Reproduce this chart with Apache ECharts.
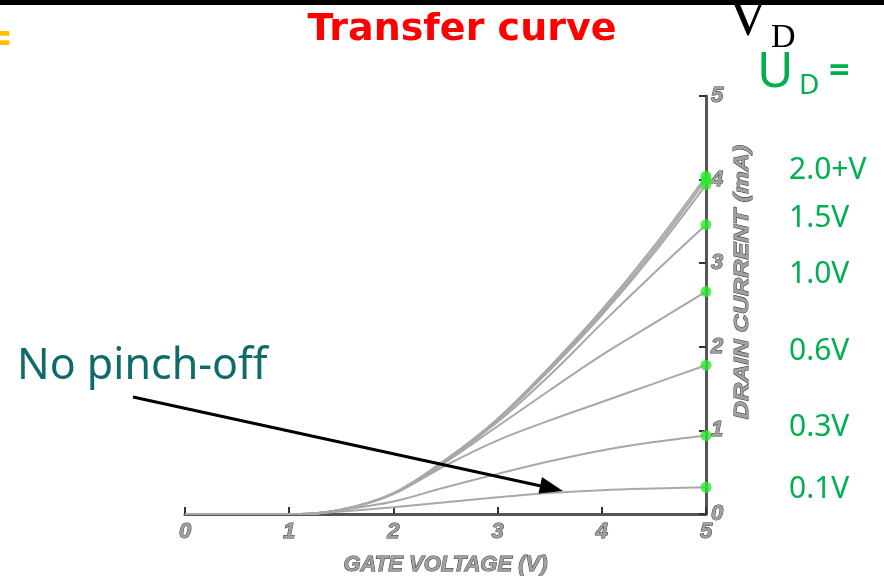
<!DOCTYPE html>
<html>
<head>
<meta charset="utf-8">
<title>Transfer curve</title>
<script src="https://cdn.jsdelivr.net/npm/echarts@6/dist/echarts.min.js"></script>
<style>
  html, body { margin: 0; padding: 0; background: #fff; }
  #chart { width: 884px; height: 576px; }
</style>
</head>
<body>
<div id="chart"></div>
<script>
// Gate voltage samples (V)
const gateVoltage = [0, 1, 1.1, 1.5, 2, 2.5, 3, 3.5, 4, 4.5, 5];

// Drain current (mA) for each drain voltage
const idVd01 = [0, 0, 0, 0.03, 0.08, 0.14, 0.20, 0.25, 0.285, 0.305, 0.32];
const idVd03 = [0, 0, 0, 0.05, 0.15, 0.32, 0.48, 0.63, 0.76, 0.86, 0.94];
const idVd06 = [0, 0, 0, 0.05, 0.24, 0.58, 0.88, 1.12, 1.34, 1.56, 1.78];
const idVd10 = [0, 0, 0, 0.05, 0.24, 0.62, 1.05, 1.48, 1.90, 2.28, 2.66];
const idVd15 = [0, 0, 0, 0.05, 0.24, 0.63, 1.10, 1.66, 2.28, 2.88, 3.46];
const idVd20 = [0, 0, 0, 0.05, 0.24, 0.63, 1.12, 1.72, 2.38, 3.12, 3.94];
const idVd25 = [0, 0, 0, 0.05, 0.25, 0.64, 1.13, 1.74, 2.41, 3.16, 4.00];
const idVd30 = [0, 0, 0, 0.05, 0.25, 0.65, 1.14, 1.76, 2.44, 3.20, 4.04];

const curves = [idVd01, idVd03, idVd06, idVd10, idVd15, idVd20, idVd25, idVd30];

// Axis ticks
const xTicks = [0, 1, 2, 3, 4, 5];
const yTicks = [0, 1, 2, 3, 4, 5];

// Drain-voltage labels along the right side, with the current each one sits beside
const vdLabels = ['0.1V', '0.3V', '0.6V', '1.0V', '1.5V', '2.0+V'];
const vdLabelCurrent = [0.29, 1.04, 1.94, 2.86, 3.54, 4.11];

const chart = echarts.init(document.getElementById('chart'), null, { renderer: 'canvas' });

const lastX = gateVoltage[gateVoltage.length - 1];

const lineSeries = curves.map(function (c) {
  return {
    type: 'line',
    data: gateVoltage.map(function (x, i) { return [x, c[i]]; }),
    symbol: 'none',
    smooth: 0.35,
    lineStyle: { color: '#a8a8a8', width: 2 },
    z: 3,
    silent: true
  };
});

const endPoints = {
  type: 'scatter',
  data: curves.map(function (c) { return [lastX, c[c.length - 1]]; }),
  symbol: 'circle',
  symbolSize: 11,
  itemStyle: { color: '#2ee82e' },
  z: 5,
  silent: true
};

const grid = { left: 185, right: 178, top: 96, bottom: 62, containLabel: false, outerBoundsMode: 'none' };
const plotH = 576 - grid.top - grid.bottom;
function yPix(v) { return grid.top + plotH * (1 - v / 5); }

const axisLabelStyle = {
  fontFamily: 'Liberation Sans',
  fontStyle: 'italic',
  fontWeight: 'bold',
  fontSize: 22,
  color: '#a0a0a0',
  textBorderColor: '#3c3c3c',
  textBorderWidth: 1
};

const graphics = [
  // dark band along the top edge
  { type: 'rect', shape: { x: 0, y: 0, width: 884, height: 5 }, style: { fill: '#000' }, z: 10 },
  // yellow equals sign at the left edge
  { type: 'text', x: -20, y: 41, style: { text: '=', font: 'bold 40px "DejaVu Sans"', fill: '#ffc000', textAlign: 'left', textVerticalAlign: 'middle' }, z: 10 },
  // title
  { type: 'text', x: 462, y: 30, style: { text: 'Transfer curve', font: 'bold 38px "DejaVu Sans"', fill: '#ff0000', textAlign: 'center', textVerticalAlign: 'middle' }, z: 10 },
  // V_D
  { type: 'text', x: 727, y: 20, style: { text: 'V', font: '58px "Liberation Serif"', fill: '#000', textAlign: 'left', textVerticalAlign: 'middle' }, z: 11 },
  { type: 'text', x: 771, y: 38, style: { text: 'D', font: '34px "Liberation Serif"', fill: '#000', textAlign: 'left', textVerticalAlign: 'middle' }, z: 11 },
  // U_D =
  { type: 'text', x: 757, y: 73, style: { text: 'U', font: '50px "Noto Sans"', fill: '#00b050', textAlign: 'left', textVerticalAlign: 'middle' }, z: 10 },
  { type: 'text', x: 799, y: 86, style: { text: 'D', font: '28px "Noto Sans"', fill: '#00b050', textAlign: 'left', textVerticalAlign: 'middle' }, z: 10 },
  { type: 'text', x: 829, y: 72, style: { text: '=', font: 'bold 36px "Noto Sans"', fill: '#00b050', textAlign: 'left', textVerticalAlign: 'middle' }, z: 10 },
  // annotation
  { type: 'text', x: 17, y: 367, style: { text: 'No pinch-off', font: '43px "Noto Sans"', fill: '#0e6b69', textAlign: 'left', textVerticalAlign: 'middle' }, z: 10 },
  { type: 'line', shape: { x1: 133, y1: 397, x2: 541, y2: 486 }, style: { stroke: '#000', lineWidth: 3 }, z: 10 },
  { type: 'polygon', shape: { points: [[563, 491], [538.5, 493.5], [542, 477]] }, style: { fill: '#000' }, z: 10 },
  // y-axis name
  { type: 'text', x: 742, y: 282, rotation: Math.PI / 2, scaleX: 1.2,
    style: { text: 'DRAIN CURRENT (mA)', font: 'italic bold 21px "Liberation Sans"', fill: '#a0a0a0', stroke: '#3c3c3c', lineWidth: 1, textAlign: 'center', textVerticalAlign: 'middle' }, z: 10 }
];

// drain-voltage labels
vdLabels.forEach(function (t, i) {
  graphics.push({
    type: 'text', x: 789, y: yPix(vdLabelCurrent[i]),
    style: { text: t, font: '30px "Noto Sans"', fill: '#00b050', textAlign: 'left', textVerticalAlign: 'middle' },
    z: 10
  });
});

const option = {
  backgroundColor: '#fff',
  animation: false,
  grid: grid,
  xAxis: {
    type: 'value',
    min: xTicks[0], max: xTicks[xTicks.length - 1], interval: 1,
    name: 'GATE VOLTAGE (V)',
    nameLocation: 'middle',
    nameGap: 40,
    nameTextStyle: {
      fontFamily: 'Liberation Sans', fontStyle: 'italic', fontWeight: 'bold', fontSize: 22,
      color: '#a0a0a0', textBorderColor: '#3c3c3c', textBorderWidth: 1
    },
    axisLine: { onZero: false, lineStyle: { color: '#555', width: 3 } },
    axisTick: { inside: true, length: 7, lineStyle: { color: '#333', width: 2 } },
    axisLabel: Object.assign({ margin: 7 }, axisLabelStyle),
    splitLine: { show: false }
  },
  yAxis: {
    type: 'value',
    position: 'right',
    min: yTicks[0], max: yTicks[yTicks.length - 1], interval: 1,
    axisLine: { show: true, onZero: false, lineStyle: { color: '#555', width: 3 } },
    axisTick: { show: true, inside: true, length: 7, lineStyle: { color: '#333', width: 2 } },
    axisLabel: Object.assign({ margin: 5 }, axisLabelStyle),
    splitLine: { show: false }
  },
  series: lineSeries.concat([endPoints]),
  graphic: graphics
};

chart.setOption(option);
</script>
</body>
</html>
